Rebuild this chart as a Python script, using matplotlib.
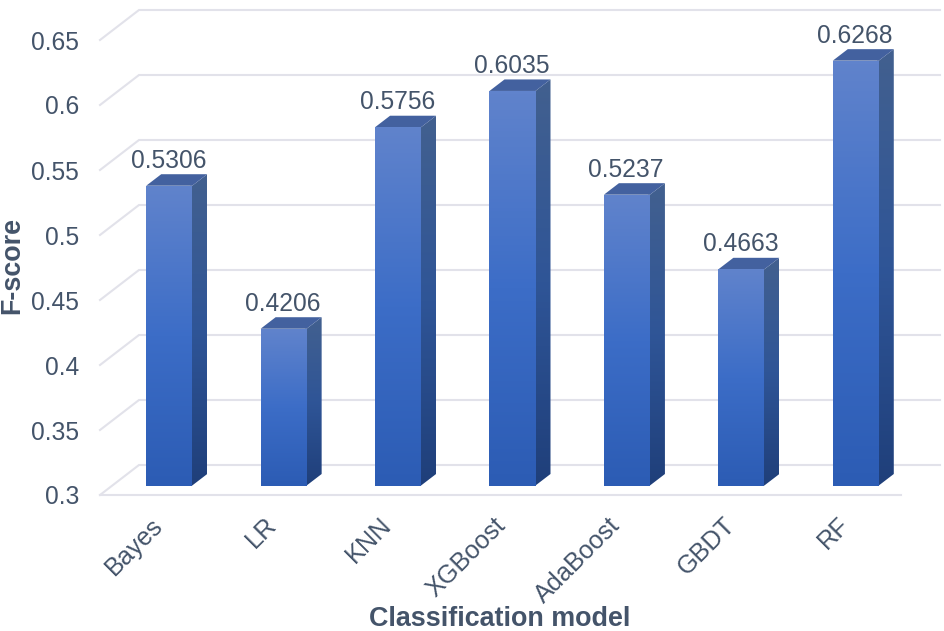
import numpy as np
import matplotlib
matplotlib.use("Agg")
import matplotlib.pyplot as plt
from matplotlib.colors import LinearSegmentedColormap
from matplotlib.patches import Polygon
from matplotlib.transforms import ScaledTranslation

models = ["Bayes", "LR", "KNN", "XGBoost", "AdaBoost", "GBDT", "RF"]
fscores = [0.5306, 0.4206, 0.5756, 0.6035, 0.5237, 0.4663, 0.6268]
yticks = [0.3, 0.35, 0.4, 0.45, 0.5, 0.55, 0.6, 0.65]
ytick_labels = ["0.3", "0.35", "0.4", "0.45", "0.5", "0.55", "0.6", "0.65"]

W, H = 944, 631
text_col = "#44546a"
grid_col = "#e2e2ea"
plt.rcParams["font.family"] = ["Liberation Sans", "DejaVu Sans"]

fig = plt.figure(figsize=(W / 100, H / 100), dpi=100)
ax = fig.add_axes([100 / W, 1 - 495 / H, 801 / W, 455 / H])
ax.set_xlim(-0.5, 6.5)
ax.set_ylim(0.3, 0.65)
for s in ax.spines.values():
    s.set_visible(False)

# pixels to data units, for the fake 3d depth
px_x = 7 / 801
px_y = 0.35 / 455
wall_dx, wall_dy = 39 * px_x, 30 * px_y
bar_dx, bar_dy = 12 * px_x, 9.5 * px_y
side_dx, side_dy = 15 * px_x, 11.5 * px_y
bar_w = 46 * px_x

# floor / wall lines
for v in yticks:
    ax.plot([-0.5, -0.5 + wall_dx, 6.5 + wall_dx], [v, v + wall_dy, v + wall_dy],
            color=grid_col, lw=1.5, clip_on=False, zorder=1, solid_joinstyle="miter")
ax.plot([-0.5, 6.5], [0.3, 0.3], color=grid_col, lw=1.5, clip_on=False, zorder=1)

front_cm = LinearSegmentedColormap.from_list("front", ["#6083cc", "#3c6dc7", "#2c5cb4"])
side_cm = LinearSegmentedColormap.from_list("side", ["#42608f", "#2f5597", "#1f3f7a"])
grad = np.linspace(0, 1, 128).reshape(-1, 1)


def shaded(xy, cmap, z):
    xy = np.array(xy)
    poly = Polygon(xy, closed=True, fc="none", ec="none", zorder=z)
    ax.add_patch(poly)
    im = ax.imshow(grad, cmap=cmap, aspect="auto", zorder=z, clip_on=True,
                   extent=[xy[:, 0].min(), xy[:, 0].max(), xy[:, 1].min(), xy[:, 1].max()])
    im.set_clip_path(poly)


y0 = 0.3 + bar_dy
overlap = 2 * px_x
for i, v in enumerate(fscores):
    top = v + bar_dy
    xl = i + bar_dx - bar_w / 2
    xr = i + bar_dx + bar_w / 2
    # side first, running a little behind the front so no seam shows
    shaded([(xr - overlap, y0), (xr, y0), (xr + side_dx, y0 + side_dy), (xr + side_dx, top + side_dy),
            (xr, top), (xr - overlap, top)], side_cm, 3)
    ax.add_patch(Polygon([(xl, top), (xr, top), (xr + side_dx, top + side_dy), (xl + side_dx, top + side_dy)],
                         closed=True, fc="#43619f", ec="none", zorder=3.5))
    shaded([(xl, y0), (xr, y0), (xr, top), (xl, top)], front_cm, 4)
    ax.annotate(f"{v:.4f}", (i + bar_dx, top), xytext=(-0.5, 18), textcoords="offset points",
                ha="center", va="center", fontsize=17.7, color=text_col, zorder=5, annotation_clip=False)

ax.set_xlim(-0.5, 6.5)
ax.set_ylim(0.3, 0.65)

ax.set_yticks(yticks)
ax.set_yticklabels(ytick_labels)
ax.set_xticks(range(len(models)))
ax.set_xticklabels(models, rotation=45, ha="right", va="top", rotation_mode="anchor")
ax.tick_params(axis="y", length=0, pad=15, labelsize=17.7, labelcolor=text_col)
ax.tick_params(axis="x", length=0, pad=13, labelsize=18.2, labelcolor=text_col)
shift = ScaledTranslation(-5 / 72, 0, fig.dpi_scale_trans)
for lab in ax.get_xticklabels():
    lab.set_transform(lab.get_transform() + shift)

ax.set_xlabel("Classification model", fontsize=19.4, fontweight="bold", color=text_col)
ax.xaxis.set_label_coords((499.5 - 100) / 801, -(619 - 495) / 455)
ax.xaxis.label.set_va("center")
ax.set_ylabel("F-score", fontsize=19.4, fontweight="bold", color=text_col)
ax.yaxis.set_label_coords((12.5 - 100) / 801, (495 - 265) / 455)
ax.yaxis.label.set_va("center")

fig.savefig("out.png", dpi=100)
